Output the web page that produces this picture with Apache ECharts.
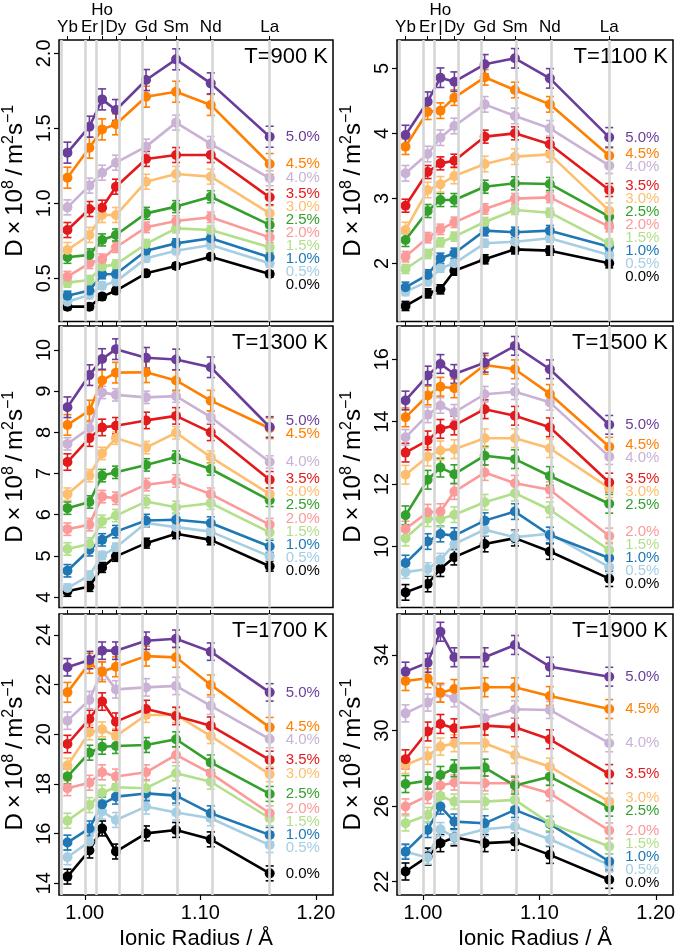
<!DOCTYPE html>
<html><head><meta charset="utf-8">
<script src="https://cdn.jsdelivr.net/npm/echarts@6/dist/echarts.min.js"></script>
<style>html,body{margin:0;padding:0;background:#fff}#c{width:685px;height:951px}</style>
</head><body><div id="c"></div>
<script>
// ---------------- data ----------------
const elements = ['Yb','Er','Ho','Dy','Gd','Sm','Nd','La'];
const radii = [0.985,1.004,1.015,1.027,1.053,1.079,1.109,1.160];
const concentrations = ['0.0%','0.5%','1.0%','1.5%','2.0%','2.5%','3.0%','3.5%','4.0%','4.5%','5.0%'];
const colors = ['#000000','#A6CEE3','#1F78B4','#B2DF8A','#FB9A99','#33A02C','#FDBF6F','#E31A1C','#CAB2D6','#FF7F00','#6A3D9A'];
const temperatures = ['T=900 K','T=1100 K','T=1300 K','T=1500 K','T=1700 K','T=1900 K'];
const xTicks = [1.00,1.10,1.20];

const D_900K = [
  [0.311,0.311,0.378,0.418,0.533,0.582,0.644,0.529],
  [0.344,0.389,0.451,0.478,0.633,0.684,0.722,0.600],
  [0.384,0.418,0.527,0.529,0.684,0.733,0.767,0.640],
  [0.471,0.489,0.578,0.593,0.729,0.833,0.822,0.707],
  [0.511,0.600,0.627,0.707,0.840,0.882,0.907,0.773],
  [0.640,0.656,0.756,0.789,0.933,0.978,1.044,0.856],
  [0.689,0.789,0.922,0.922,1.144,1.196,1.178,0.933],
  [0.822,0.962,0.971,1.111,1.296,1.322,1.322,1.040],
  [0.973,1.118,1.204,1.271,1.378,1.538,1.396,1.167],
  [1.171,1.371,1.493,1.527,1.711,1.744,1.656,1.262],
  [1.338,1.511,1.693,1.622,1.822,1.960,1.800,1.444]
];
const D_1100K = [
  [1.344,1.538,1.600,1.887,2.062,2.215,2.195,2.000],
  [1.564,1.718,1.923,2.000,2.308,2.333,2.385,2.128],
  [1.631,1.821,2.077,2.154,2.503,2.477,2.503,2.256],
  [1.913,2.144,2.323,2.410,2.636,2.821,2.779,2.308],
  [2.103,2.395,2.523,2.631,2.836,2.995,3.015,2.564],
  [2.359,2.805,2.974,2.974,3.179,3.231,3.221,2.718],
  [2.513,3.128,3.215,3.344,3.528,3.641,3.677,2.810],
  [2.887,3.405,3.538,3.579,3.949,4.000,3.831,3.128],
  [3.385,3.682,3.933,4.113,4.446,4.267,4.077,3.503],
  [3.795,4.333,4.349,4.549,4.862,4.667,4.446,3.656],
  [3.974,4.487,4.856,4.795,5.062,5.154,4.846,3.938]
];
const D_1300K = [
  [4.14,4.26,4.72,4.99,5.31,5.54,5.39,4.75],
  [4.22,4.53,5.01,5.21,5.80,5.70,5.59,4.99],
  [4.64,5.15,5.39,5.59,5.86,5.88,5.80,5.23],
  [5.17,5.29,5.84,5.98,6.32,6.18,6.28,5.57],
  [5.65,5.76,6.44,6.40,6.73,6.82,6.50,5.76],
  [6.16,6.31,6.95,7.03,7.21,7.40,7.11,6.35],
  [6.50,6.95,7.49,7.86,7.63,7.99,7.40,6.50],
  [7.28,7.86,8.12,8.16,8.29,8.40,8.00,6.85],
  [7.72,8.10,8.97,8.91,8.85,8.88,8.37,7.28],
  [8.18,8.53,9.26,9.45,9.46,9.26,8.77,8.10],
  [8.61,9.39,9.78,10.02,9.81,9.77,9.58,8.13]
];
const D_1500K = [
  [8.53,8.80,9.29,9.66,10.08,10.27,9.84,8.97],
  [9.18,9.28,9.58,10.08,10.54,10.30,10.41,9.34],
  [9.47,10.16,10.40,10.35,10.83,11.12,10.37,9.63],
  [10.27,10.89,10.88,11.02,11.42,11.71,11.18,9.89],
  [10.56,11.10,11.12,11.76,12.37,12.03,11.82,10.34],
  [11.00,12.14,12.53,12.32,12.91,12.80,12.26,11.37],
  [12.30,12.88,13.08,13.12,13.47,13.47,13.15,11.87],
  [13.01,13.40,13.77,13.88,14.40,14.19,13.82,12.05],
  [13.50,14.22,14.52,14.30,14.88,14.96,14.62,12.88],
  [14.14,14.84,15.12,15.07,15.82,15.68,14.89,13.20],
  [14.68,15.48,15.85,15.53,15.89,16.43,15.68,13.90]
];
const D_1700K = [
  [14.27,15.32,16.21,15.28,16.01,16.15,15.77,14.40],
  [15.05,15.68,16.89,16.55,17.09,16.85,16.62,15.54],
  [15.64,16.21,17.18,17.49,17.62,17.53,16.82,15.95],
  [16.52,17.15,17.65,17.87,17.83,18.43,18.09,16.62],
  [17.83,18.05,18.47,18.30,18.47,19.17,18.43,16.82],
  [18.30,19.26,19.50,19.53,19.57,19.80,18.87,17.60],
  [18.74,20.08,20.20,19.93,20.78,20.78,19.93,18.39],
  [19.61,20.62,21.32,20.51,21.02,20.74,20.35,18.97],
  [20.55,21.38,22.55,21.81,21.89,21.95,21.15,19.81],
  [21.69,22.86,22.52,22.72,23.15,23.10,21.99,20.28],
  [22.70,22.99,23.37,23.37,23.77,23.85,23.33,21.69]
];
const D_1900K = [
  [22.54,23.33,24.04,24.35,24.04,24.12,23.42,22.10],
  [23.59,23.28,24.78,24.35,24.78,24.92,24.25,22.89],
  [23.59,24.74,25.98,25.18,25.09,25.80,25.06,23.07],
  [25.09,25.53,26.54,26.24,26.24,26.33,25.09,23.86],
  [25.98,26.54,27.09,27.25,27.21,27.21,26.68,24.71],
  [27.17,27.35,27.65,28.00,28.04,27.09,27.56,25.92],
  [28.18,28.66,29.15,29.33,29.33,28.71,28.09,26.24],
  [28.48,29.95,30.35,30.12,30.26,30.17,29.54,27.70],
  [30.91,31.48,31.97,31.71,30.65,31.13,31.09,29.33],
  [32.62,32.77,32.00,32.20,32.29,32.29,31.83,31.14],
  [33.12,33.59,35.23,33.88,33.88,34.53,33.38,32.85]
];
// error bar half-widths per concentration
const err_900K  = [0.02,0.025,0.03,0.03,0.035,0.04,0.05,0.05,0.05,0.07,0.07];
const err_1100K = [0.07,0.06,0.08,0.07,0.08,0.10,0.12,0.10,0.12,0.12,0.15];
const err_1300K = [0.12,0.10,0.15,0.15,0.15,0.15,0.15,0.20,0.15,0.25,0.25];
const err_1500K = [0.25,0.20,0.25,0.25,0.25,0.30,0.30,0.30,0.25,0.30,0.30];
const err_1700K = [0.30,0.30,0.30,0.30,0.30,0.30,0.30,0.35,0.35,0.40,0.35];
const err_1900K = [0.45,0.35,0.40,0.40,0.40,0.45,0.45,0.50,0.45,0.50,0.50];
const yTicks_900K  = [0.5,1.0,1.5,2.0];
const yTicks_1100K = [2,3,4,5];
const yTicks_1300K = [4,5,6,7,8,9,10];
const yTicks_1500K = [10,12,14,16];
const yTicks_1700K = [14,16,18,20,22,24];
const yTicks_1900K = [22,26,30,34];

// ---------------- layout ----------------
const FONT = '"Liberation Sans", Arial, Helvetica, sans-serif';
const X_MIN = 0.9777, X_MAX = 1.2148;
const colLeft = [57, 397], gridW = 276;
const rowTop = [40, 326, 614], gridH = [281.5, 281.5, 281];
const panels = [
  {data: D_900K,  err: err_900K,  ticks: yTicks_900K,  min: 0.212, max: 2.089, dec: 1},
  {data: D_1100K, err: err_1100K, ticks: yTicks_1100K, min: 1.105, max: 5.436, dec: 0},
  {data: D_1300K, err: err_1300K, ticks: yTicks_1300K, min: 3.748, max: 10.582, dec: 0},
  {data: D_1500K, err: err_1500K, ticks: yTicks_1500K, min: 8.046, max: 17.067, dec: 0},
  {data: D_1700K, err: err_1700K, ticks: yTicks_1700K, min: 13.529, max: 24.846, dec: 0},
  {data: D_1900K, err: err_1900K, ticks: yTicks_1900K, min: 21.296, max: 36.17, dec: 0}
];

const grid = [], xAxis = [], yAxis = [], series = [], graphic = [];
const yName = '{m|D\u2009×\u200910}{s|8}{m|\u2009/\u2009m}{s|2}{m|s}{s|\u22121}';

panels.forEach((pn, p) => {
  const col = p % 2, row = Math.floor(p / 2);
  const isTop = row === 0, isBottom = row === 2;
  grid.push({left: colLeft[col], top: rowTop[row], width: gridW, height: gridH[row],
    show: true, borderColor: '#000', borderWidth: 1.5, backgroundColor: 'transparent'});
  // bottom x axis
  xAxis.push({
    gridIndex: p, type: 'value', position: 'bottom', min: X_MIN, max: X_MAX,
    axisLine: {show: false}, splitLine: {show: false},
    axisTick: {show: isBottom, length: 5, customValues: xTicks, lineStyle: {color: '#000', width: 1.2}},
    axisLabel: {show: isBottom, customValues: xTicks, fontSize: 20, color: '#000', margin: 8,
      fontFamily: FONT, formatter: v => v.toFixed(2)},
    name: isBottom ? 'Ionic Radius / Å' : '', nameLocation: 'middle', nameGap: 33,
    nameTextStyle: {fontSize: 22, color: '#000', fontFamily: FONT}
  });
  // top x axis (element positions)
  xAxis.push({
    gridIndex: p, type: 'value', position: 'top', min: X_MIN, max: X_MAX,
    axisLine: {show: false}, splitLine: {show: false},
    axisTick: {show: true, length: 4, customValues: radii, lineStyle: {color: '#000', width: 1}},
    axisLabel: {show: isTop, customValues: radii, fontSize: 17, color: '#000', margin: 4,
      lineHeight: 17, fontFamily: FONT, hideOverlap: false,
      formatter: v => {
        let k = 0; radii.forEach((r, i) => { if (Math.abs(r - v) < Math.abs(radii[k] - v)) k = i; });
        return elements[k] === 'Ho' ? 'Ho\n|' : elements[k];
      }}
  });
  yAxis.push({
    gridIndex: p, type: 'value', min: pn.min, max: pn.max,
    axisLine: {show: false}, splitLine: {show: false},
    axisTick: {show: true, length: 5, customValues: pn.ticks, lineStyle: {color: '#000', width: 1.2}},
    axisLabel: {customValues: pn.ticks, rotate: 90, fontSize: 20, color: '#000', margin: 5,
      fontFamily: FONT, formatter: v => v.toFixed(pn.dec)},
    name: yName, nameLocation: 'middle', nameRotate: 90, nameGap: 29,
    nameTextStyle: {color: '#000', fontFamily: FONT, rich: {
      m: {fontSize: 24, lineHeight: 29, fontFamily: FONT, color: '#000'},
      s: {fontSize: 16, lineHeight: 16, verticalAlign: 'top', fontFamily: FONT, color: '#000'}
    }}
  });
  // element guide lines
  series.push({
    type: 'line', xAxisIndex: 2 * p, yAxisIndex: p, z: 1, silent: true,
    data: [[radii[0], pn.data[0][0]]], showSymbol: false, lineStyle: {opacity: 0},
    markLine: {symbol: 'none', silent: true, animation: false, label: {show: false},
      lineStyle: {color: '#d6d6d6', width: 2.6, type: 'solid'},
      data: radii.map(r => ({xAxis: r}))}
  });
  pn.data.forEach((vals, s) => {
    const e = pn.err[s], color = colors[s];
    series.push({
      type: 'custom', xAxisIndex: 2 * p, yAxisIndex: p, z: 3, silent: true,
      data: radii.map((r, i) => [r, vals[i] - e, vals[i] + e]),
      encode: {x: 0, y: [1, 2]},
      renderItem: (params, api) => {
        const lo = api.coord([api.value(0), api.value(1)]);
        const hi = api.coord([api.value(0), api.value(2)]);
        const w = 4, st = {stroke: color, lineWidth: 1.6};
        return {type: 'group', children: [
          {type: 'line', shape: {x1: lo[0], y1: lo[1], x2: hi[0], y2: hi[1]}, style: st},
          {type: 'line', shape: {x1: lo[0] - w, y1: lo[1], x2: lo[0] + w, y2: lo[1]}, style: st},
          {type: 'line', shape: {x1: hi[0] - w, y1: hi[1], x2: hi[0] + w, y2: hi[1]}, style: st}
        ]};
      }
    });
    series.push({
      id: 'L' + p + '_' + s, type: 'line', xAxisIndex: 2 * p, yAxisIndex: p, z: 3,
      data: radii.map((r, i) => [r, vals[i]]),
      symbol: 'circle', symbolSize: 10, showSymbol: true,
      lineStyle: {color, width: 2.6}, itemStyle: {color},
      label: {show: true, position: 'right', distance: 11, fontSize: 15, color, fontFamily: FONT,
        formatter: prm => prm.dataIndex === radii.length - 1 ? concentrations[s] : ''}
    });
  });
  graphic.push({type: 'text', x: colLeft[col] + gridW - 5, y: rowTop[row] + 17,
    style: {text: temperatures[p], fontSize: 22, fontFamily: FONT, fill: '#000',
      textAlign: 'right', textVerticalAlign: 'middle', align: 'right', verticalAlign: 'middle'}});
});

const chart = echarts.init(document.getElementById('c'), null, {renderer: 'canvas'});
chart.setOption({animation: false, backgroundColor: '#fff', textStyle: {fontFamily: FONT},
  grid, xAxis, yAxis, series, graphic});

// spread end labels so they don't overlap
const upd = [];
panels.forEach((pn, p) => {
  const items = pn.data.map((vals, s) => {
    const id = 'L' + p + '_' + s;
    const px = chart.convertToPixel({seriesId: id}, [radii[radii.length - 1], vals[vals.length - 1]]);
    return {id, y: px[1], t: px[1]};
  });
  items.sort((a, b) => a.y - b.y);
  const gap = 13;
  for (let it = 0; it < 400; it++) {
    for (let i = 0; i < items.length - 1; i++) {
      const d = items[i + 1].t - items[i].t;
      if (d < gap) { const m = (gap - d) / 2; items[i].t -= m; items[i + 1].t += m; }
    }
  }
  items.forEach(it => upd.push({id: it.id, label: {offset: [0, it.t - it.y]}}));
});
chart.setOption({series: upd});
</script></body></html>
